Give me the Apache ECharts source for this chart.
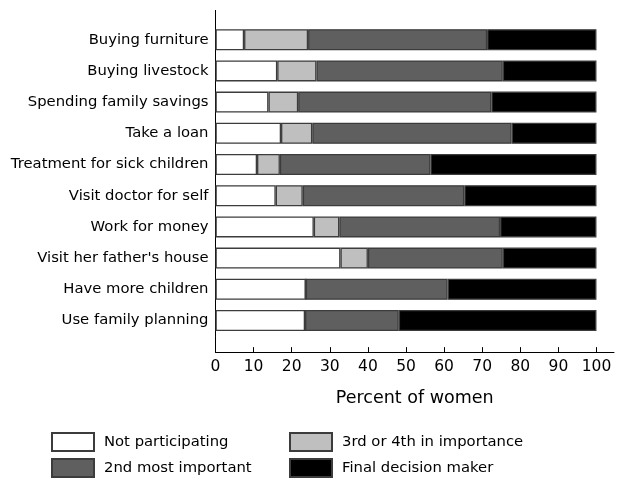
<!DOCTYPE html>
<html>
<head>
<meta charset="utf-8">
<script src="https://cdn.jsdelivr.net/npm/echarts@6/dist/echarts.min.js"></script>
<style>html,body{margin:0;padding:0;background:#fff}#chart{width:624px;height:483px}</style>
</head>
<body>
<div id="chart"></div>
<script>
const categories = ["Buying furniture","Buying livestock","Spending family savings","Take a loan","Treatment for sick children","Visit doctor for self","Work for money","Visit her father's house","Have more children","Use family planning"];
const notParticipating = [7.5, 16.2, 13.9, 17.2, 10.9, 15.8, 25.8, 32.8, 23.7, 23.5];
const thirdOrFourth    = [16.8, 10.3, 7.8, 8.2, 6.0, 7.1, 6.7, 7.2, 0, 0];
const secondMost       = [47.0, 48.9, 50.7, 52.3, 39.5, 42.4, 42.2, 35.4, 37.2, 24.6];
const finalDecision    = [28.7, 24.6, 27.6, 22.3, 43.6, 34.7, 25.3, 24.6, 39.1, 51.9];
const xTicks = [0,10,20,30,40,50,60,70,80,90,100];
const seriesNames = ["Not participating","3rd or 4th in importance","2nd most important","Final decision maker"];
const seriesColors = ["#ffffff","#bfbfbf","#5f5f5f","#000000"];

const chart = echarts.init(document.getElementById('chart'), null, {renderer:'canvas'});
const font = "DejaVu Sans";
const dataSets = [notParticipating, thirdOrFourth, secondMost, finalDecision];
const gridTop = 24.1, gridH = 312;
const legendBase = {orient:'vertical', top:432, height:60, padding:0, itemWidth:42, itemHeight:18, itemGap:6, icon:'rect',
  textStyle:{fontFamily:font,fontSize:14.8,color:'#000',padding:[0,0,0,5]}, selectedMode:false};
chart.setOption({
  animation:false,
  backgroundColor:'#fff',
  textStyle:{fontFamily:font},
  grid:{left:215.5, right:10, top:gridTop, height:gridH},
  legend:[
    Object.assign({}, legendBase, {data:[seriesNames[0],seriesNames[2]], left:51}),
    Object.assign({}, legendBase, {data:[seriesNames[1],seriesNames[3]], left:289})
  ],
  xAxis:{
    type:'value', min:0, max:104.6, offset:16,
    axisLine:{show:true,lineStyle:{color:'#000',width:1}},
    axisTick:{show:true,inside:true,length:5,lineStyle:{color:'#000'},customValues:xTicks},
    axisLabel:{fontFamily:font,fontSize:15.5,color:'#000',margin:7,customValues:xTicks},
    splitLine:{show:false},
    name:'Percent of women', nameLocation:'middle', nameGap:37,
    nameTextStyle:{fontFamily:font,fontSize:17.5,color:'#000'}
  },
  yAxis:{
    type:'category', data:categories, inverse:true,
    axisLine:{show:true,lineStyle:{color:'#000',width:1}},
    axisTick:{show:false},
    axisLabel:{fontFamily:font,fontSize:14.8,color:'#000',margin:7}
  },
  graphic:[
    {type:'line', shape:{x1:215.5,y1:10,x2:215.5,y2:gridTop}, style:{stroke:'#000',lineWidth:1}},
    {type:'line', shape:{x1:215.5,y1:gridTop+gridH,x2:215.5,y2:353}, style:{stroke:'#000',lineWidth:1}}
  ],
  series: dataSets.map((d,i)=>({
    name:seriesNames[i], type:'bar', stack:'total', barWidth:21,
    itemStyle:{color:seriesColors[i], borderColor:'#3c3c3c', borderWidth:1.3},
    data:d
  }))
});
</script>
</body>
</html>
